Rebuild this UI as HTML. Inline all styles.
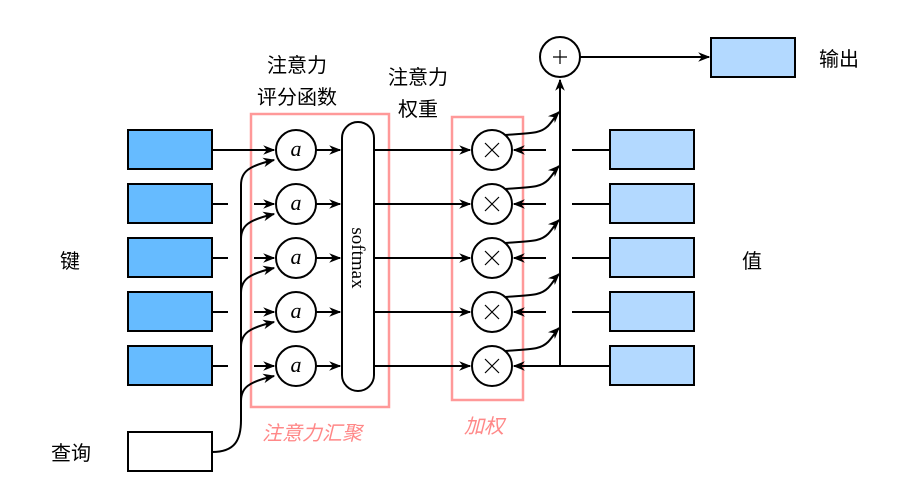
<!DOCTYPE html>
<html><head><meta charset="utf-8"><style>
html,body{margin:0;padding:0;background:#fff;width:923px;height:499px;overflow:hidden}
svg text{font-family:"Liberation Sans","Noto Sans CJK SC",sans-serif}
svg text.ser{font-family:"Liberation Serif",serif}
</style></head><body>
<svg width="923" height="499" viewBox="0 0 923 499" xmlns="http://www.w3.org/2000/svg">
<defs>
<marker id="ar2" viewBox="0 0 10 10" refX="9" refY="5" markerWidth="12" markerHeight="12" orient="auto" markerUnits="userSpaceOnUse">
<path d="M0,1 L10,5 L0,9 L3,5 z" fill="#000"/></marker>
</defs>
<g fill="none" stroke="#f99" stroke-width="2.5">
<rect x="251" y="114" width="138" height="293"/>
<rect x="452" y="117" width="71" height="283"/>
</g>
<g stroke="#000" stroke-width="2" fill="none">
<g fill="#66bbff">
<rect x="128" y="130" width="84" height="39"/>
<rect x="128" y="184" width="84" height="39"/>
<rect x="128" y="238" width="84" height="39"/>
<rect x="128" y="292" width="84" height="39"/>
<rect x="128" y="346" width="84" height="39"/>
</g>
<rect x="128" y="432" width="84" height="39" fill="#fff"/>
<g fill="#b3d9ff">
<rect x="610" y="130" width="84" height="39"/>
<rect x="610" y="184" width="84" height="39"/>
<rect x="610" y="238" width="84" height="39"/>
<rect x="610" y="292" width="84" height="39"/>
<rect x="610" y="346" width="84" height="39"/>
<rect x="711" y="38" width="84" height="39"/>
</g>
<path d="M212,150 L274,150" marker-end="url(#ar2)"/>
<path d="M212,204 L228,204 M212,258 L228,258 M212,312 L228,312 M212,366 L228,366"/>
<path d="M254,204 L274,204" marker-end="url(#ar2)"/>
<path d="M254,258 L274,258" marker-end="url(#ar2)"/>
<path d="M254,312 L274,312" marker-end="url(#ar2)"/>
<path d="M254,366 L274,366" marker-end="url(#ar2)"/>
<path d="M212,452 C235,452 241,440 241,420 L241,185 C241,172 248,166 274,160" marker-end="url(#ar2)"/>
<path d="M241,239 C241,226 248,220 274,214" marker-end="url(#ar2)"/>
<path d="M241,293 C241,280 248,274 274,268" marker-end="url(#ar2)"/>
<path d="M241,347 C241,334 248,328 274,322" marker-end="url(#ar2)"/>
<path d="M241,401 C241,388 248,382 274,376" marker-end="url(#ar2)"/>
<g fill="#fff">
<circle cx="296" cy="150" r="20"/><circle cx="296" cy="204" r="20"/><circle cx="296" cy="258" r="20"/><circle cx="296" cy="312" r="20"/><circle cx="296" cy="366" r="20"/>
</g>
<path d="M316,150 L340,150" marker-end="url(#ar2)"/>
<path d="M316,204 L340,204" marker-end="url(#ar2)"/>
<path d="M316,258 L340,258" marker-end="url(#ar2)"/>
<path d="M316,312 L340,312" marker-end="url(#ar2)"/>
<path d="M316,366 L340,366" marker-end="url(#ar2)"/>
<rect x="342" y="122" width="32" height="269" rx="16" fill="#fff"/>
<path d="M374,150 L470,150" marker-end="url(#ar2)"/>
<path d="M374,204 L470,204" marker-end="url(#ar2)"/>
<path d="M374,258 L470,258" marker-end="url(#ar2)"/>
<path d="M374,312 L470,312" marker-end="url(#ar2)"/>
<path d="M374,366 L470,366" marker-end="url(#ar2)"/>
<g fill="#fff">
<circle cx="492" cy="150" r="20"/><circle cx="492" cy="204" r="20"/><circle cx="492" cy="258" r="20"/><circle cx="492" cy="312" r="20"/><circle cx="492" cy="366" r="20"/>
</g>
<g stroke-width="1.2">
<path d="M485,143 L499,157 M499,143 L485,157"/>
<path d="M485,197 L499,211 M499,197 L485,211"/>
<path d="M485,251 L499,265 M499,251 L485,265"/>
<path d="M485,305 L499,319 M499,305 L485,319"/>
<path d="M485,359 L499,373 M499,359 L485,373"/>
</g>
<path d="M546,150 L514,150" marker-end="url(#ar2)"/>
<path d="M546,204 L514,204" marker-end="url(#ar2)"/>
<path d="M546,258 L514,258" marker-end="url(#ar2)"/>
<path d="M546,312 L514,312" marker-end="url(#ar2)"/>
<path d="M610,366 L514,366" marker-end="url(#ar2)"/>
<path d="M572,150 L610,150 M572,204 L610,204 M572,258 L610,258 M572,312 L610,312"/>
<path d="M560,366 L560,80" marker-end="url(#ar2)"/>
<path d="M505,135 C530,133 540,134 548,126 C553,121 555,116 559,112" marker-end="url(#ar2)"/>
<path d="M505,189 C530,187 540,188 548,180 C553,175 555,170 559,166" marker-end="url(#ar2)"/>
<path d="M505,243 C530,241 540,242 548,234 C553,229 555,224 559,220" marker-end="url(#ar2)"/>
<path d="M505,297 C530,295 540,296 548,288 C553,283 555,278 559,274" marker-end="url(#ar2)"/>
<path d="M505,351 C530,349 540,350 548,342 C553,337 555,332 559,328" marker-end="url(#ar2)"/>
<circle cx="560" cy="57" r="20" fill="#fff"/>
<path d="M553,57 L567,57 M560,50 L560,64" stroke-width="1.2"/>
<path d="M580,57 L709,57" marker-end="url(#ar2)"/>
</g>
<g font-style="italic" font-size="22" text-anchor="middle">
<text class="ser" x="296" y="156">a</text>
<text class="ser" x="296" y="210">a</text>
<text class="ser" x="296" y="264">a</text>
<text class="ser" x="296" y="318">a</text>
<text class="ser" x="296" y="372">a</text>
</g>
<text class="ser" x="0" y="0" transform="translate(352,258) rotate(90)" text-anchor="middle" font-size="19">softmax</text>
<g font-size="20" text-anchor="middle" fill="#000">
<text x="297" y="72">注意力</text>
<text x="297" y="104">评分函数</text>
<text x="418" y="84">注意力</text>
<text x="418" y="116">权重</text>
<text x="70" y="268">键</text>
<text x="752" y="268">值</text>
<text x="71" y="460">查询</text>
<text x="839" y="66">输出</text>
</g>
<g font-size="20" fill="#f88" text-anchor="middle" font-style="italic">
<text x="312" y="440">注意力汇聚</text>
<text x="484" y="433">加权</text>
</g>
</svg>
</body></html>
